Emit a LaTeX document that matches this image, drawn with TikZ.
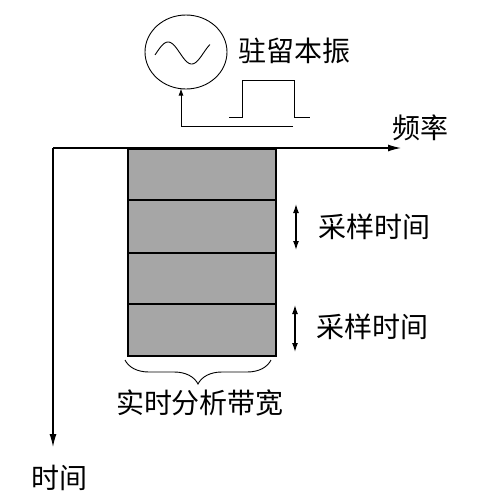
\documentclass[tikz,border=0pt]{standalone}
\usepackage{fontspec}
\setmainfont{Noto Sans CJK SC}
\usetikzlibrary{arrows.meta,decorations.pathreplacing,shapes.geometric}
\begin{document}
\begin{tikzpicture}[x=1pt,y=-1pt,
  label/.style={font=\fontsize{28pt}{30pt}\selectfont, inner sep=0pt},
  rowbox/.style={draw, line width=1.4pt, fill=black!35, minimum width=148pt, inner sep=0pt},
  axis/.style={line width=1.2pt, -{Latex[length=13pt,width=7pt]}},
  dbl/.style={line width=1.3pt, {Latex[length=9pt,width=6pt]}-{Latex[length=9pt,width=6pt]}},
  thin/.style={line width=0.9pt}]
\useasboundingbox (0,0) rectangle (480,499);
% oscillator
\node[ellipse, draw, thin, minimum width=82pt, minimum height=74pt, inner sep=0pt] (osc) at (186,52) {};
\draw[thin] plot[domain=0:1, samples=50, smooth] ({155+55*\x},{53-11*sin(-10+420*\x)});
\node[label] (lo) at (294,51) {驻留本振};
% pulse
\coordinate (pa) at (229,117);
\coordinate (pb) at (242,80);
\coordinate (pc) at (294,80);
\coordinate (pd) at (310,117);
\draw[thin] (pa) -- (pa -| pb) -- (pb) -- (pc) -- (pc |- pd) -- (pd);
% feedback arrow
\coordinate (fb) at (293,126);
\coordinate (oscin) at (181,88.5);
\draw[thin, -{Latex[length=7pt,width=5pt]}] (fb) -| (oscin);
% axes
\coordinate (O) at (53,148);
\coordinate (fx) at (401,148);
\coordinate (ty) at (53,447);
\draw[axis] (O) -- (fx);
\draw[axis] (O) -- (ty);
\node[label] (freq) at (420,128) {频率};
\node[label] (time) at (59,478) {时间};
% rows
\node[rowbox, minimum height=51pt] (r1) at (202,174.5) {};
\node[rowbox, minimum height=53pt] (r2) at (202,226.5) {};
\node[rowbox, minimum height=51pt] (r3) at (202,278.5) {};
\node[rowbox, minimum height=52pt] (r4) at (202,330) {};
% sampling time arrows
\coordinate (s1a) at (296,204);
\coordinate (s1b) at (296,250);
\coordinate (s2a) at (295,305);
\coordinate (s2b) at (295,352);
\draw[dbl] (s1a) -- (s1b);
\draw[dbl] (s2a) -- (s2b);
\node[label] (st1) at (374,227) {采样时间};
\node[label] (st2) at (372,327) {采样时间};
% brace
\coordinate (ba) at (125,360);
\coordinate (bb) at (271,360);
\draw[thin, decorate, decoration={brace, amplitude=24pt, aspect=0.5, mirror}] (ba) -- (bb);
\node[label] (rtbw) at (200,403) {实时分析带宽};
\end{tikzpicture}
\end{document}
